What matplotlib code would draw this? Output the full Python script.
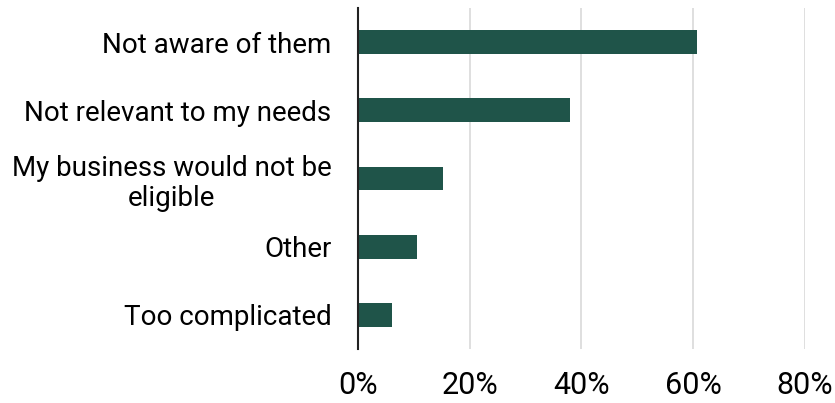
import matplotlib.pyplot as plt
from matplotlib.ticker import PercentFormatter

reasons = ["Not aware of them", "Not relevant to my needs",
           "My business would not be\neligible", "Other", "Too complicated"]
shares = [60.7, 38.0, 15.2, 10.6, 6.1]
ticks = [0, 20, 40, 60, 80]

plt.rcParams['font.family'] = ['Roboto', 'DejaVu Sans']

fig = plt.figure(figsize=(8.35, 4.03), dpi=100)
ax = fig.add_axes([0.4287, 0.134, 0.5353, 0.846])

pos = list(range(len(reasons)))
ax.barh(pos, shares, height=0.35, color="#1f5449", zorder=3)
ax.set_yticks(pos)
ax.set_yticklabels(reasons, fontsize=20, ha="right", multialignment="center",
                   linespacing=1.15)
ax.set_ylim(4.5, -0.5)
ax.set_xlim(0, 80)
ax.set_xticks(ticks)
ax.xaxis.set_major_formatter(PercentFormatter(decimals=0))
ax.tick_params(axis="x", labelsize=22, length=0, pad=16)
ax.tick_params(axis="y", length=0, pad=19)
ax.grid(axis="x", color="#d9d9d9", linewidth=1.2, zorder=0)

for s in ["top", "right", "bottom"]:
    ax.spines[s].set_visible(False)
ax.spines["left"].set_color("#222222")
ax.spines["left"].set_linewidth(1.5)
ax.spines["left"].set_zorder(4)

fig.savefig("out.png", dpi=100)
